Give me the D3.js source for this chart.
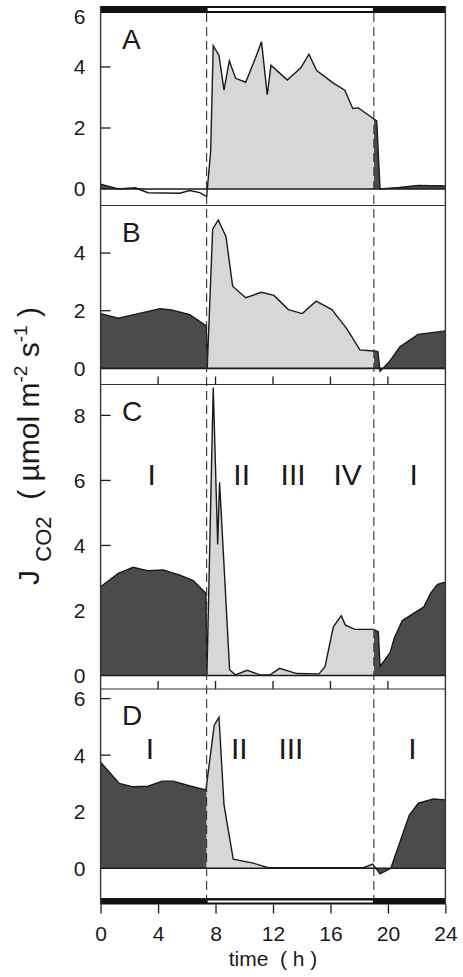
<!DOCTYPE html>
<html>
<head>
<meta charset="utf-8">
<script src="https://cdn.jsdelivr.net/npm/d3@7"></script>
<style>
  body { margin: 0; background: #fff; }
  svg { display: block; font-family: "Liberation Sans", Arial, sans-serif; }
</style>
</head>
<body>
<div id="chart"></div>
<script>
// light period (h) and time axis
const hourTicks = [0, 4, 8, 12, 16, 20, 24];
const lightsOn = 7.38, lightsOff = 19.02;

// panel A
const timeA = [0, 1.23, 2.4, 3.3, 5.5, 6.2, 6.9, 7.38, 7.66, 7.84, 8.24, 8.59, 8.96, 9.4, 10.1, 10.8, 11.2, 11.6, 11.86, 12.37, 13.0, 13.95, 14.5, 15.04, 16.2, 17.0, 17.55, 17.94, 18.98, 19.22, 19.45, 20.8, 22.1, 24];
const fluxA = [0.16, 0, 0.04, -0.12, -0.14, -0.05, -0.12, -0.25, 1.22, 4.7, 4.38, 3.24, 4.2, 3.63, 3.5, 4.32, 4.83, 3.09, 4.06, 3.84, 3.57, 3.98, 4.42, 3.88, 3.47, 3.24, 2.64, 2.66, 2.31, 2.23, 0, 0.05, 0.12, 0.1];
// panel B
const timeB = [0, 1.23, 3.08, 4.13, 4.94, 6.2, 7.36, 7.42, 7.8, 8.19, 8.73, 9.19, 10.1, 11.2, 12.07, 13.07, 14.04, 15.0, 16.1, 17.13, 18.05, 18.98, 19.3, 19.45, 20.05, 20.84, 22.1, 24];
const fluxB = [1.9, 1.74, 1.95, 2.07, 2.03, 1.86, 1.47, 0, 4.83, 5.15, 4.57, 2.85, 2.45, 2.64, 2.53, 2.04, 1.9, 2.33, 2.04, 1.38, 0.64, 0.6, 0.58, -0.1, 0.2, 0.75, 1.18, 1.3];
// panel C
const timeC = [0, 1.23, 2.27, 3.32, 4.36, 5.52, 6.45, 7.33, 7.4, 7.84, 8.15, 8.28, 8.98, 9.38, 10.2, 11.1, 11.8, 12.46, 13.65, 15.2, 15.62, 16.2, 16.75, 17.04, 17.7, 18.98, 19.33, 19.45, 20.15, 20.45, 21.0, 22.5, 23.0, 23.45, 24];
const fluxC = [2.73, 3.14, 3.33, 3.22, 3.25, 3.09, 2.92, 2.53, 0, 8.86, 4.03, 5.94, 0.18, 0.02, 0.16, 0.02, 0.02, 0.22, 0.06, 0.05, 0.27, 1.5, 1.84, 1.55, 1.42, 1.42, 1.35, 0.28, 0.7, 1.16, 1.69, 2.11, 2.55, 2.8, 2.87];
// panel D
const timeD = [0, 1.3, 2.27, 3.3, 4.29, 5.06, 6.22, 7.33, 7.91, 8.24, 8.59, 9.23, 10.63, 11.67, 18.3, 18.94, 19.45, 20.2, 21.49, 22.12, 23.16, 24];
const fluxD = [3.75, 3.0, 2.88, 2.9, 3.08, 3.08, 2.91, 2.77, 5.06, 5.34, 2.24, 0.32, 0.18, 0.02, 0.02, 0.15, -0.2, 0, 1.88, 2.3, 2.45, 2.42];

// y axis limits and tick labels
const yDomainA = [-0.54, 5.77], yTicksA = [0, 2, 4, 6];
const yDomainB = [-0.56, 5.65], yTicksB = [0, 2, 4];
const yDomainC = [-0.415, 8.95], yTicksC = [0, 2, 4, 6, 8];
const yDomainD = [-1.07, 6.34], yTicksD = [0, 2, 4, 6];

// phase annotations
const phaseLabelsC = ["I", "II", "III", "IV", "I"];
const phaseHoursC = [3.55, 9.82, 13.4, 17.2, 21.8];
const phaseLevelC = 5.85;
const phaseLabelsD = ["I", "II", "III", "I"];
const phaseHoursD = [3.44, 9.65, 13.25, 21.7];
const phaseLevelD = 3.85;

const width = 463, height = 977;
const darkFill = "#4b4b4c", lightFill = "#d6d7d9", ink = "#1a1a1a";

const x = d3.scaleLinear().domain([0, 24]).range([100.6, 445.4]);

const panels = [
  {letter: "A", time: timeA, flux: fluxA, domain: yDomainA, ticks: yTicksA, top: 13, bottom: 205.5, fillNegative: false, innerTicks: false},
  {letter: "B", time: timeB, flux: fluxB, domain: yDomainB, ticks: yTicksB, top: 205.5, bottom: 384.5, fillNegative: true, innerTicks: true},
  {letter: "C", time: timeC, flux: fluxC, domain: yDomainC, ticks: yTicksC, top: 384.5, bottom: 689, fillNegative: true, innerTicks: true,
    phases: phaseLabelsC, phaseHours: phaseHoursC, phaseLevel: phaseLevelC},
  {letter: "D", time: timeD, flux: fluxD, domain: yDomainD, ticks: yTicksD, top: 689, bottom: 898.5, fillNegative: true, innerTicks: false,
    phases: phaseLabelsD, phaseHours: phaseHoursD, phaseLevel: phaseLevelD}
];

const svg = d3.select("#chart").append("svg")
  .attr("width", width)
  .attr("height", height)
  .attr("viewBox", [0, 0, width, height]);

const defs = svg.append("defs");

panels.forEach((p, i) => {
  const y = d3.scaleLinear().domain(p.domain).range([p.bottom, p.top]);
  const data = p.time.map((t, j) => ({t: t, v: p.flux[j]}));
  const g = svg.append("g");

  // clip regions: night (dark) and day (light)
  defs.append("clipPath").attr("id", "day" + i)
    .append("rect")
    .attr("x", x(lightsOn)).attr("y", p.top)
    .attr("width", x(lightsOff) - x(lightsOn)).attr("height", p.bottom - p.top);
  const night = defs.append("clipPath").attr("id", "night" + i);
  night.append("rect")
    .attr("x", x(0)).attr("y", p.top)
    .attr("width", x(lightsOn) - x(0)).attr("height", p.bottom - p.top);
  night.append("rect")
    .attr("x", x(lightsOff)).attr("y", p.top)
    .attr("width", x(24) - x(lightsOff)).attr("height", p.bottom - p.top);

  // y tick marks (drawn under the fills)
  g.append("g")
    .selectAll("line")
    .data(p.ticks.filter(v => v !== 0 && v < p.domain[1]))
    .join("line")
      .attr("x1", x(0)).attr("x2", x(0) + 10)
      .attr("y1", d => y(d)).attr("y2", d => y(d))
      .attr("stroke", ink).attr("stroke-width", 1.3);

  const area = d3.area()
    .x(d => x(d.t))
    .y0(y(0))
    .y1(d => y(p.fillNegative ? d.v : Math.max(0, d.v)));

  g.append("path").datum(data)
    .attr("d", area)
    .attr("fill", darkFill)
    .attr("clip-path", `url(#night${i})`);
  g.append("path").datum(data)
    .attr("d", area)
    .attr("fill", lightFill)
    .attr("clip-path", `url(#day${i})`);

  g.append("path").datum(data)
    .attr("d", d3.line().x(d => x(d.t)).y(d => y(d.v)))
    .attr("fill", "none")
    .attr("stroke", ink)
    .attr("stroke-width", 1.4)
    .attr("stroke-linejoin", "miter");

  // zero line
  g.append("line")
    .attr("x1", x(0)).attr("x2", x(24))
    .attr("y1", y(0)).attr("y2", y(0))
    .attr("stroke", ink).attr("stroke-width", 1.6);

  // panel separator
  g.append("line")
    .attr("x1", x(0)).attr("x2", x(24))
    .attr("y1", p.bottom).attr("y2", p.bottom)
    .attr("stroke", "#333").attr("stroke-width", 1.2);

  if (p.innerTicks) {
    g.append("g")
      .selectAll("line")
      .data(hourTicks.slice(1, -1))
      .join("line")
        .attr("x1", d => x(d)).attr("x2", d => x(d))
        .attr("y1", p.bottom - 8).attr("y2", p.bottom)
        .attr("stroke", ink).attr("stroke-width", 1.3);
  }

  // y tick labels
  g.append("g")
    .attr("text-anchor", "end")
    .style("font-size", "21px")
    .selectAll("text")
    .data(p.ticks)
    .join("text")
      .attr("x", 85.5)
      .attr("y", d => Math.max(y(d), p.top + 4))
      .attr("dy", "0.35em")
      .attr("fill", ink)
      .text(d => d);

  g.append("text")
    .attr("x", 122)
    .attr("y", p.top + 36)
    .style("font-size", "28px")
    .attr("fill", ink)
    .text(p.letter);

  if (p.phases) {
    g.append("g")
      .attr("text-anchor", "middle")
      .style("font-size", "30px")
      .selectAll("text")
      .data(p.phases)
      .join("text")
        .attr("x", (d, j) => x(p.phaseHours[j]))
        .attr("y", y(p.phaseLevel))
        .attr("fill", ink)
        .text(d => d);
  }
});

// light/dark bars at top and bottom
const frameTop = 13, frameBottom = 898.5;
[[6, 7], [898.5, 6]].forEach(([by, bh]) => {
  svg.append("rect")
    .attr("x", x(0)).attr("y", by)
    .attr("width", x(24) - x(0)).attr("height", bh)
    .attr("fill", "#111");
  svg.append("rect")
    .attr("x", x(lightsOn) + 1).attr("y", by + 2)
    .attr("width", x(lightsOff) - x(lightsOn) - 2).attr("height", bh - 4)
    .attr("fill", "#fff");
});

// dashed lights-on / lights-off lines
svg.append("g")
  .selectAll("line")
  .data([lightsOn, lightsOff])
  .join("line")
    .attr("x1", d => x(d)).attr("x2", d => x(d))
    .attr("y1", frameTop).attr("y2", frameBottom)
    .attr("stroke", "#333")
    .attr("stroke-width", 1.1)
    .attr("stroke-dasharray", "9,5");

// side frame lines
svg.append("g")
  .selectAll("line")
  .data([0, 24])
  .join("line")
    .attr("x1", d => x(d)).attr("x2", d => x(d))
    .attr("y1", 6).attr("y2", 904.5)
    .attr("stroke", "#333").attr("stroke-width", 1.4);

// bottom time axis
const xAxis = svg.append("g")
  .attr("transform", `translate(0,904.5)`)
  .call(d3.axisBottom(x).tickValues(hourTicks).tickSize(9).tickPadding(13))
  .call(g => g.select(".domain").remove());
xAxis.selectAll("line").attr("stroke", ink).attr("stroke-width", 1.3);
xAxis.selectAll("text")
  .attr("fill", ink)
  .style("font-size", "21px")
  .style("font-family", "'Liberation Sans', Arial, sans-serif");

svg.append("text")
  .attr("x", 273)
  .attr("y", 966)
  .attr("text-anchor", "middle")
  .style("font-size", "21px")
  .style("white-space", "pre")
  .attr("fill", ink)
  .text("time  ( h )");

// y axis title
const yTitle = svg.append("text")
  .attr("transform", "translate(39,446) rotate(-90)")
  .attr("text-anchor", "middle")
  .style("font-size", "30px")
  .style("white-space", "pre")
  .attr("fill", ink);
yTitle.append("tspan").text("J ");
yTitle.append("tspan").attr("dy", 12).style("font-size", "22px").text("CO2");
yTitle.append("tspan").attr("dy", -12).text("  ( µmol m");
yTitle.append("tspan").attr("dy", -12).style("font-size", "19px").text("-2");
yTitle.append("tspan").attr("dy", 12).text(" s");
yTitle.append("tspan").attr("dy", -12).style("font-size", "19px").text("-1");
yTitle.append("tspan").attr("dy", 12).text(" )");
</script>
</body>
</html>
